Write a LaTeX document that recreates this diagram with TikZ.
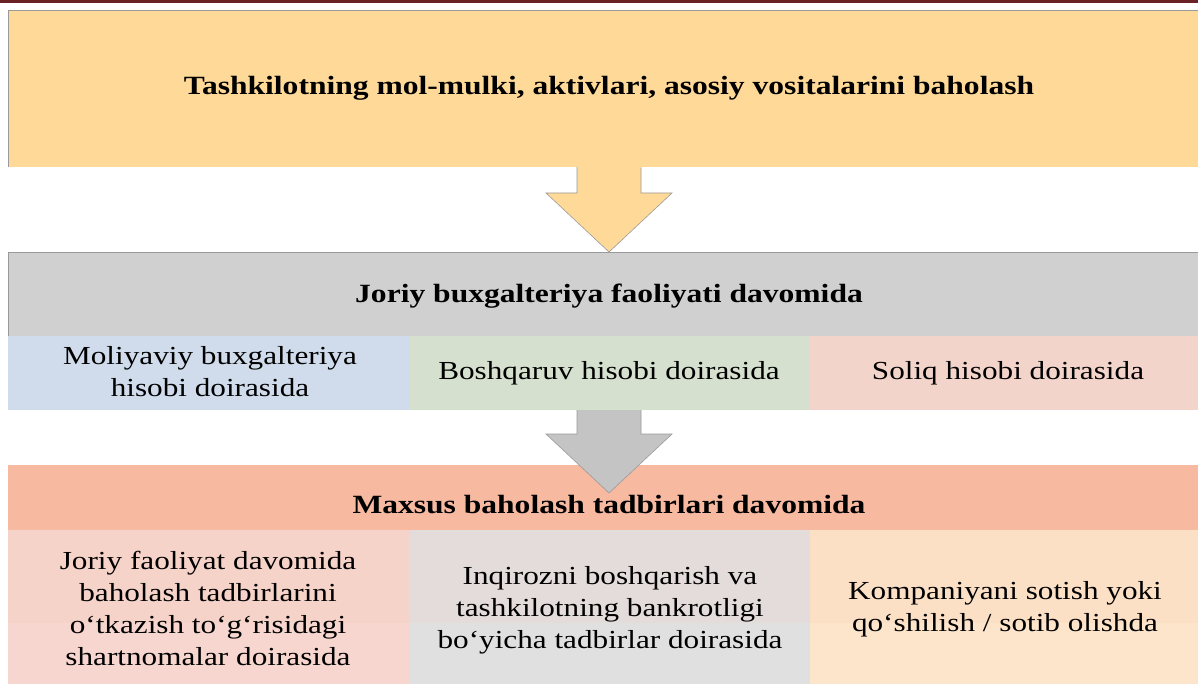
\documentclass[tikz,border=0pt]{standalone}
\usepackage{fontspec}
\setmainfont[FakeStretch=1.2]{Liberation Serif}
\usetikzlibrary{calc}
\definecolor{topband}{HTML}{6B2226}
\definecolor{cYellow}{HTML}{FFD997}
\definecolor{cGray}{HTML}{D0D0D0}
\definecolor{cArrowGray}{HTML}{C4C4C4}
\definecolor{cBlue}{HTML}{D0DCEC}
\definecolor{cGreen}{HTML}{D5E0CE}
\definecolor{cPink}{HTML}{F3D4CB}
\definecolor{cSalmon}{HTML}{F7B9A0}
\definecolor{cPinkTop}{HTML}{F6D3C8}
\definecolor{cPinkBot}{HTML}{F6D6CE}
\definecolor{cGrayTop}{HTML}{E3DCDA}
\definecolor{cGrayBot}{HTML}{E0E0E0}
\definecolor{cPeachTop}{HTML}{FCE0C6}
\definecolor{cPeachBot}{HTML}{FDE5CB}
\definecolor{edge}{HTML}{9A9A9A}
\tikzset{
  x=1pt, y=-1pt,
  headtxt/.style={font=\fontsize{26.3}{30}\selectfont\bfseries, align=center, inner sep=0pt},
  celltxt/.style={font=\fontsize{26}{32}\selectfont, align=center, inner sep=0pt},
  arrowshape/.style={draw=edge, line width=0.6pt, line join=miter},
}
\begin{document}
\begin{tikzpicture}
\useasboundingbox (0,0) rectangle (1198,684);
\fill[white] (0,0) rectangle (1198,684);
% top band
\fill[topband] (0,0) rectangle (1198,3.5);
% top box
\fill[cYellow] (8,10) rectangle (1198,167);
\draw[edge, line width=1pt] (8.5,167) -- (8.5,10.5) -- (1198,10.5);
\node[headtxt] (title) at (609,88) {Tashkilotning mol-mulki, aktivlari, asosiy vositalarini baholash};
% gray box
\fill[cGray] (8,252) rectangle (1198,336);
\draw[edge, line width=1pt] (8.5,336) -- (8.5,252.5) -- (1198,252.5);
\node[headtxt] (joriy) at (609,296) {Joriy buxgalteriya faoliyati davomida};
% arrow 1
\draw[arrowshape, fill=cYellow] (577,167) -- (577,193) -- (546,193) -- (609,252) -- (672,193) -- (641,193) -- (641,167);
\fill[cYellow] (577.5,160) rectangle (640.5,168);
% middle row
\fill[cBlue] (8,336) rectangle (410,410);
\fill[cGreen] (410,336) rectangle (810,410);
\fill[cPink] (810,336) rectangle (1198,410);
\node[celltxt] (m1) at (210,372) {Moliyaviy buxgalteriya\\hisobi doirasida};
\node[celltxt] (m2) at (609,373) {Boshqaruv hisobi doirasida};
\node[celltxt] (m3) at (1008,373) {Soliq hisobi doirasida};
% salmon header
\fill[cSalmon] (8,465) rectangle (1198,530);
\node[headtxt] (maxsus) at (609,505) {Maxsus baholash tadbirlari davomida};
% arrow 2
\draw[arrowshape, fill=cArrowGray] (577,410) -- (577,434) -- (546,434) -- (609,493) -- (672,434) -- (641,434) -- (641,410);
% bottom row
\fill[cPinkTop] (8,530) rectangle (410,623);
\fill[cPinkBot] (8,623) rectangle (410,684);
\fill[cGrayTop] (410,530) rectangle (810,623);
\fill[cGrayBot] (410,623) rectangle (810,684);
\fill[cPeachTop] (810,530) rectangle (1198,623);
\fill[cPeachBot] (810,623) rectangle (1198,684);
\node[celltxt] (b1) at (208,608) {Joriy faoliyat davomida\\baholash tadbirlarini\\o‘tkazish to‘g‘risidagi\\shartnomalar doirasida};
\node[celltxt] (b2) at (610,610) {Inqirozni boshqarish va\\tashkilotning bankrotligi\\bo‘yicha tadbirlar doirasida};
\node[celltxt] (b3) at (1005,609) {Kompaniyani sotish yoki\\qo‘shilish / sotib olishda};
\end{tikzpicture}
\end{document}
